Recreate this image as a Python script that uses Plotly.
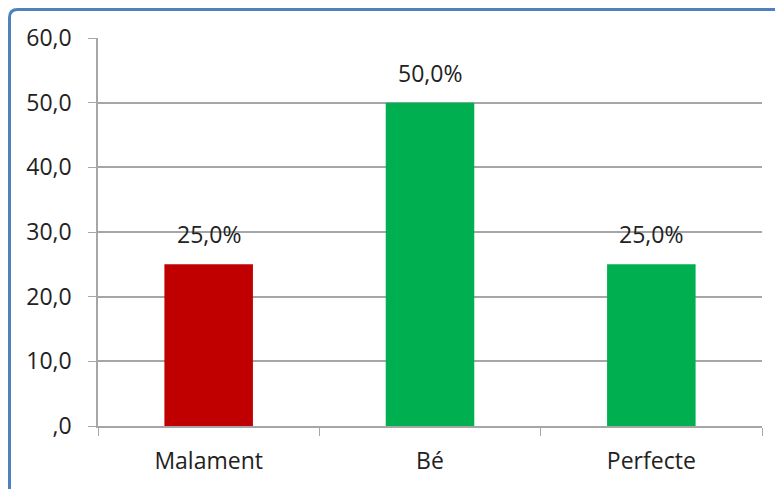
import plotly.graph_objects as go

categories = ["Malament", "Bé", "Perfecte"]
values = [25.0, 50.0, 25.0]
bar_colors = ["#C00000", "#00B050", "#00B050"]
value_labels = ["25,0%", "50,0%", "25,0%"]
y_ticks = [0, 10, 20, 30, 40, 50, 60]
y_tick_text = [",0", "10,0", "20,0", "30,0", "40,0", "50,0", "60,0"]

# page body has an 8px margin, so the figure is drawn at (8, 8)
OFF = 8
W, H = 783 - OFF, 489 - OFF
ml, mr, mt, mb = 98 - OFF, 21, 38 - OFF, 63
pw, ph = W - ml - mr, H - mt - mb

def px_x(p):
    return (p - OFF - ml) / pw

def px_y(p):
    return (H - mb - (p - OFF)) / ph

fig = go.Figure()
fig.add_trace(go.Bar(
    x=categories, y=values,
    marker=dict(color=bar_colors, line=dict(width=0)),
    width=0.4,
    hoverinfo="skip",
))

for c, v, t in zip(categories, values, value_labels):
    fig.add_annotation(
        x=c, y=v, text=t, showarrow=False,
        yanchor="bottom", yshift=12,
        font=dict(size=23, color="#222222"),
    )

# blue frame (top and left edges visible, rounded corner)
x0, y0 = px_x(9.5), px_y(9.5)
x1, y1 = px_x(800), px_y(500)
r = 8
fig.add_shape(
    type="path", xref="paper", yref="paper",
    path=(f"M {x0},{y1} L {x0},{px_y(9.5 + r)} "
          f"Q {x0},{y0} {px_x(9.5 + r)},{y0} L {x1},{y0}"),
    line=dict(color="#4F81BD", width=3),
)

fig.update_layout(
    width=W, height=H,
    margin=dict(l=ml, r=mr, t=mt, b=mb),
    paper_bgcolor="white", plot_bgcolor="white",
    font=dict(family="Open Sans, Noto Sans, sans-serif", size=23, color="#222222"),
    showlegend=False,
    bargap=0.6,
)
fig.update_xaxes(
    showline=True, linecolor="#A6A6A6", linewidth=1.5,
    ticks="outside", ticklen=8, tickcolor="#A6A6A6", tickson="boundaries",
    ticklabelstandoff=14,
    tickfont=dict(size=23), showgrid=False,
)
fig.update_yaxes(
    range=[0, 60], tickvals=y_ticks, ticktext=y_tick_text,
    showline=True, linecolor="#A6A6A6", linewidth=1.5,
    ticks="outside", ticklen=8, tickcolor="#A6A6A6",
    ticklabelstandoff=12,
    showgrid=True, gridcolor="#A6A6A6", gridwidth=1.5,
    zeroline=False, tickfont=dict(size=23),
)

fig.write_html("out.html")
